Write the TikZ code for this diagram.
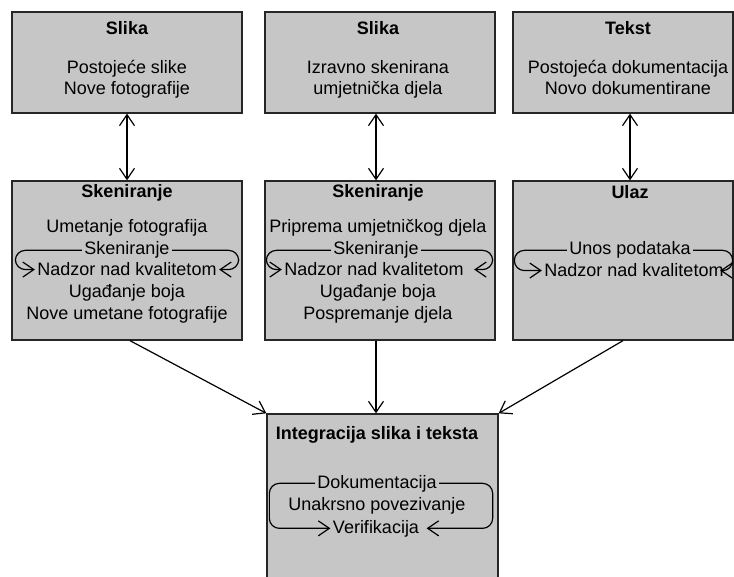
\documentclass[tikz,border=0pt]{standalone}
\usepackage{fontspec}
\setmainfont{Liberation Sans}
\usetikzlibrary{arrows.meta}
\definecolor{boxgray}{RGB}{198,198,198}
\begin{document}
\begin{tikzpicture}[x=1pt,y=-1pt,line width=1.2pt,
  >={Straight Barb[length=11pt,width=15pt]},
  box/.style={draw=black!85,fill=boxgray,line width=1.3pt,inner sep=0pt},
  ttl/.style={font=\fontsize{18}{21}\selectfont\bfseries,anchor=base,inner sep=2pt},
  ln/.style={font=\fontsize{18}{21}\selectfont,anchor=base,inner sep=2pt},
  loop/.style={->,rounded corners=10pt}]
\clip (0,0) rectangle (734,577);

% top row
\node[box,minimum width=230pt,minimum height=101pt] (s1) at (127,62.5) {};
\node[box,minimum width=230pt,minimum height=101pt] (s2) at (380,62.5) {};
\node[box,minimum width=220pt,minimum height=101pt] (s3) at (623,62.5) {};
\node[ttl] (s1t) at (127,35) {Slika};
\node[ln] (s1a) at (127,74) {Postojeće slike};
\node[ln] (s1b) at (127,95) {Nove fotografije};
\node[ttl] (s2t) at (378,35) {Slika};
\node[ln] (s2a) at (378,74) {Izravno skenirana};
\node[ln] (s2b) at (378,95) {umjetnička djela};
\node[ttl] (s3t) at (628,35) {Tekst};
\node[ln] (s3a) at (628,74) {Postojeća dokumentacija};
\node[ln] (s3b) at (628,95) {Novo dokumentirane};

% second row
\node[box,minimum width=230pt,minimum height=159pt] (k1) at (127,260.5) {};
\node[box,minimum width=230pt,minimum height=159pt] (k2) at (380,260.5) {};
\node[box,minimum width=220pt,minimum height=159pt] (k3) at (623,260.5) {};
\node[ttl] (k1t) at (127,198) {Skeniranje};
\node[ln] (k1a) at (127,233) {Umetanje fotografija};
\node[ln] (k1b) at (127,255) {Skeniranje};
\node[ln] (k1c) at (127,276) {Nadzor nad kvalitetom};
\node[ln] (k1d) at (127,298) {Ugađanje boja};
\node[ln] (k1e) at (127,320) {Nove umetane fotografije};
\node[ttl] (k2t) at (378,198) {Skeniranje};
\node[ln] (k2a) at (378,233) {Priprema umjetničkog djela};
\node[ln] (k2b) at (376,255) {Skeniranje};
\node[ln] (k2c) at (374,276) {Nadzor nad kvalitetom};
\node[ln] (k2d) at (378,298) {Ugađanje boja};
\node[ln] (k2e) at (378,320) {Pospremanje djela};
\node[ttl] (k3t) at (630,199) {Ulaz};
\node[ln] (k3b) at (630,255) {Unos podataka};
\node[ln] (k3c) at (634,277) {Nadzor nad kvalitetom};

% integration
\node[box,minimum width=231pt,minimum height=200pt] (int) at (382.5,514) {};
\node[ttl] (it) at (377,439) {Integracija slika i teksta};
\node[ln] (ia) at (377,488) {Dokumentacija};
\node[ln] (ib) at (377,510) {Unakrsno povezivanje};
\node[ln] (ic) at (376,533) {Verifikacija};

% connectors
\draw[<->] (s1) -- (k1);
\draw[<->] (s2.south -| k2b) -- (k2b.north |- k2.north);
\draw[<->] (s3.south -| k3b) -- (k3b.north |- k3.north);
\draw[->] ([xshift=3pt]k1.south) -- (int.north west);
\draw[->] (k2.south -| k2b) -- (k2b |- int.north);
\draw[->] (k3.south) -- (int.north east);

% loops
\draw[loop] (k1b.west) -- ([xshift=4pt]k1.west |- k1b.west) |- (k1c.west);
\draw[loop] (k1b.east) -- ([xshift=-4pt]k1.east |- k1b.east) |- (k1c.east);
\draw[loop] (k2b.west) -- ([xshift=2pt]k2.west |- k2b.west) |- (k2c.west);
\draw[loop] (k2b.east) -- ([xshift=-3pt]k2.east |- k2b.east) |- ([xshift=8pt]k2c.east);
\draw[loop] (k3b.west) -- ([xshift=2pt]k3.west |- k3b.west) |- (k3c.west);
\draw[loop] (k3b.east) -- ([xshift=-1pt]k3.east |- k3b.east) |- ([xshift=-6pt]k3c.east);
\draw[loop] (ia.west) -- ([xshift=3pt]int.west |- ia.west) |- (ic.west);
\draw[loop] (ia.east) -- ([xshift=-6pt]int.east |- ia.east) |- ([xshift=5pt]ic.east);
\end{tikzpicture}
\end{document}
